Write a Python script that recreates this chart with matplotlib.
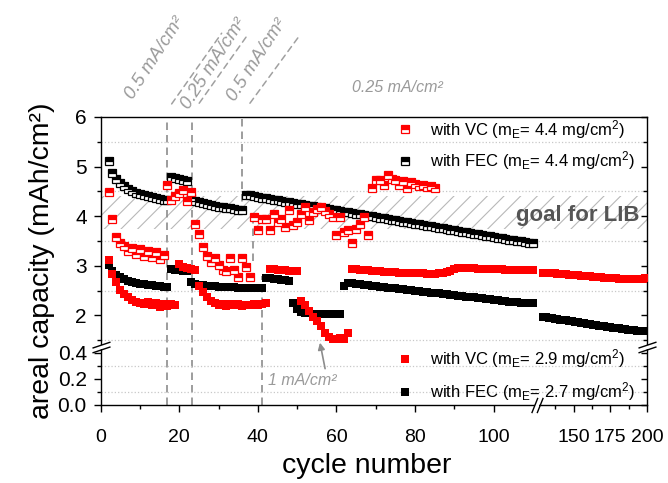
import numpy as np
import matplotlib
matplotlib.use("Agg")
import matplotlib.pyplot as plt
from matplotlib.lines import Line2D
from matplotlib.path import Path
from matplotlib.text import OffsetFrom
from matplotlib.ticker import FixedLocator, FixedFormatter

plt.rcParams['font.family'] = ['Liberation Sans', 'DejaVu Sans']
plt.rcParams['mathtext.fontset'] = 'custom'
plt.rcParams['mathtext.rm'] = 'Liberation Sans'
plt.rcParams['mathtext.it'] = 'Liberation Sans:italic'
plt.rcParams['hatch.color'] = '#b8b8b8'
plt.rcParams['hatch.linewidth'] = 0.8

# ---- data ----
cyc_left = list(range(2, 111))
cyc_vc44 = list(range(2, 86))
cyc_right = list(range(129, 200, 2))

fec44 = [5.11, 4.88, 4.75, 4.66, 4.60, 4.55, 4.50, 4.47, 4.44, 4.42, 4.40, 4.38, 4.36, 4.35, 4.33, 4.32,
         4.79, 4.77, 4.75, 4.73, 4.71,
         4.36, 4.31, 4.28, 4.26, 4.24, 4.22, 4.21, 4.19, 4.18, 4.17, 4.16, 4.14, 4.13, 4.12,
         4.43, 4.42, 4.40, 4.39, 4.37, 4.36, 4.35, 4.33, 4.32, 4.31,
         4.29, 4.28, 4.27, 4.25, 4.24, 4.22, 4.21, 4.20, 4.18, 4.17,
         4.16, 4.14, 4.13, 4.12, 4.10, 4.09, 4.08, 4.06, 4.05, 4.04,
         4.02, 4.01, 4.00, 3.98, 3.97, 3.96, 3.94, 3.93, 3.92, 3.90,
         3.89, 3.88, 3.86, 3.85, 3.84, 3.82, 3.81, 3.80, 3.78, 3.77,
         3.76, 3.74, 3.73, 3.72, 3.70, 3.69, 3.68, 3.66, 3.65, 3.64,
         3.62, 3.61, 3.60, 3.58, 3.57, 3.56, 3.54, 3.53, 3.52, 3.50,
         3.49, 3.48, 3.46, 3.45]

vc44 = [4.49, 3.94, 3.58, 3.45, 3.40, 3.30, 3.36, 3.24, 3.33, 3.20, 3.30, 3.17, 3.28, 3.14, 3.22, 4.62,
        4.33, 4.40, 4.46, 4.52, 4.30, 4.49,
        3.84, 3.64, 3.38, 3.20, 3.08, 3.16, 3.01, 2.92, 2.90, 3.15, 2.91, 2.77, 3.15, 2.98, 2.77,
        3.98, 3.72, 3.95, 3.95, 3.72, 4.05, 3.88, 3.95, 3.78, 4.12, 3.82, 3.88, 4.05, 4.19, 3.92,
        4.08, 4.15, 4.18, 4.10, 4.05, 3.98, 3.62, 3.98, 3.68, 3.72, 3.45, 3.75, 3.85, 3.98, 3.62,
        4.56, 4.73, 4.72, 4.63, 4.83, 4.75, 4.72, 4.62, 4.70, 4.56, 4.69, 4.65, 4.60, 4.62, 4.58,
        4.60, 4.56]

vc29 = [3.11, 2.84, 2.67, 2.52, 2.44, 2.37, 2.32, 2.28, 2.26, 2.22, 2.28, 2.20, 2.25, 2.17, 2.22, 2.19, 2.22, 2.20,
        3.04, 2.97, 2.95, 2.93, 2.92,
        2.60, 2.48, 2.38, 2.30, 2.24, 2.20, 2.22, 2.19, 2.23, 2.20, 2.22, 2.19, 2.21, 2.20, 2.22, 2.21, 2.23, 2.24,
        2.94, 2.93, 2.92, 2.92, 2.91, 2.90, 2.90, 2.89,
        2.30, 2.20, 2.08, 1.97, 1.88, 1.78, 1.65, 1.57, 1.53, 1.52, 1.54, 1.53, 1.65,
        2.94, 2.93, 2.92, 2.92, 2.91, 2.90, 2.90, 2.89, 2.88, 2.88,
        2.87, 2.87, 2.86, 2.86, 2.86, 2.85, 2.85, 2.85, 2.85, 2.84,
        2.84, 2.84, 2.85, 2.85, 2.87, 2.90, 2.93, 2.95, 2.96, 2.95,
        2.95, 2.95, 2.94, 2.94, 2.94, 2.93, 2.93, 2.93, 2.93, 2.92,
        2.92, 2.92, 2.92, 2.92, 2.92, 2.92, 2.92]
vc29_right = [2.86, 2.86, 2.85, 2.85, 2.85, 2.84, 2.84, 2.83, 2.83, 2.82, 2.82, 2.81,
              2.81, 2.80, 2.80, 2.79, 2.79, 2.78, 2.78, 2.77, 2.77, 2.76, 2.76, 2.76,
              2.75, 2.75, 2.74, 2.74, 2.74, 2.73, 2.73, 2.74, 2.74, 2.74, 2.74, 2.75]

fec27 = [3.01, 2.90, 2.82, 2.77, 2.73, 2.70, 2.68, 2.66, 2.64, 2.63, 2.62, 2.61, 2.60, 2.59, 2.58, 2.58,
         2.94, 2.92, 2.91, 2.90, 2.89,
         2.68, 2.64, 2.62, 2.61, 2.60, 2.59, 2.59, 2.58, 2.58, 2.57, 2.57, 2.57, 2.56, 2.56, 2.56,
         2.55, 2.55, 2.55, 2.55,
         2.76, 2.75, 2.74, 2.73, 2.72, 2.71, 2.70,
         2.26, 2.12, 2.07, 2.05, 2.04, 2.03, 2.03, 2.02, 2.02, 2.02, 2.02, 2.02, 2.02,
         2.60, 2.66, 2.65, 2.64, 2.63, 2.62, 2.61, 2.60, 2.59, 2.58,
         2.57, 2.56, 2.56, 2.55, 2.54, 2.53, 2.52, 2.51, 2.50, 2.49,
         2.48, 2.47, 2.46, 2.46, 2.45, 2.44, 2.43, 2.42, 2.41, 2.40,
         2.39, 2.38, 2.37, 2.37, 2.36, 2.35, 2.34, 2.33, 2.32, 2.31,
         2.30, 2.29, 2.28, 2.28, 2.27, 2.26, 2.25, 2.24, 2.24]
fec27_right = [1.97, 1.96, 1.95, 1.94, 1.93, 1.92, 1.91, 1.90, 1.90, 1.89, 1.88, 1.87,
               1.86, 1.85, 1.84, 1.83, 1.82, 1.81, 1.80, 1.79, 1.79, 1.78, 1.77, 1.76,
               1.75, 1.74, 1.74, 1.73, 1.72, 1.71, 1.71, 1.70, 1.69, 1.69, 1.68, 1.68]

rate_cycles = [17, 23.3, 36]
rate_labels = ['0.5 mA/cm²', '0.25 mA/cm²', '0.5 mA/cm²']
goal_band = (3.75, 4.4)

# ---- broken axes via piecewise-linear scales ----
xs_in = [-1000, 0, 111, 125, 200, 1000]
xs_out = [-1000, 0, 111, 111.001, 111 + 75 * 0.3733, 111 + 875 * 0.3733]
yr = 130 / 49.6
ylo_top, yhi_bot = 0.446, 1.363
ys_in = [-100, 0, ylo_top, yhi_bot, 6, 100]
ys_out = [-100 * yr, 0, ylo_top * yr, ylo_top * yr + 1e-4,
          ylo_top * yr + 1e-4 + (6 - yhi_bot), ylo_top * yr + 1e-4 + (100 - yhi_bot)]


def xfwd(v):
    return np.interp(v, xs_in, xs_out)


def xinv(v):
    return np.interp(v, xs_out, xs_in)


def yfwd(v):
    return np.interp(v, ys_in, ys_out)


def yinv(v):
    return np.interp(v, ys_out, ys_in)


fig = plt.figure(figsize=(6.68, 4.83), dpi=100)
ax = fig.add_axes([0.1507, 0.1615, 0.8178, 0.5963])
ax.set_xscale('function', functions=(xfwd, xinv))
ax.set_yscale('function', functions=(yfwd, yinv))
ax.set_xlim(0, 200)
ax.set_ylim(0, 6)

gray = '#8c8c8c'
# goal band
ax.axhspan(*goal_band, facecolor='none', edgecolor='#b8b8b8', hatch='//', lw=0, zorder=0)
ax.text(0.987, 4.02, 'goal for LIB', transform=ax.get_yaxis_transform(), ha='right', va='center',
        fontsize=16, fontweight='bold', color='#555555', zorder=1)

# rate-change dashed lines
dash = dict(color=gray, lw=1.2, dashes=(4.5, 3), zorder=1)
ax.plot([17, 17], [0, 6], **dash)
ax.plot([23.3, 23.3], [0, 6], **dash)
ax.plot([36, 36], [4.05, 6], **dash)
ax.plot([38.8, 38.8], [3.1, 4.05], **dash)
ax.plot([41, 41], [0, 2.8], **dash)

# minor grid
ax.grid(which='minor', axis='y', linestyle=':', color='#c8c8c8', lw=0.9, zorder=0)

ms = 6.3
half = dict(ls='none', marker='s', ms=ms, mew=0.9, fillstyle='top', markerfacecoloralt='white')
full = dict(ls='none', marker='s', ms=ms, mew=0)
ax.plot(cyc_left, fec44, color='black', zorder=3, **half)
ax.plot(cyc_left, fec27, color='black', zorder=3, **full)
ax.plot(cyc_right, fec27_right, color='black', zorder=3, **full)
ax.plot(cyc_vc44, vc44, color='red', zorder=4, **half)
ax.plot(cyc_left, vc29, color='red', zorder=4, **full)
ax.plot(cyc_right, vc29_right, color='red', zorder=4, **full)

# ticks
ymaj = [0, 0.2, 0.4, 2, 3, 4, 5, 6]
ymaj_lbl = ['0.0', '0.2', '0.4', '2', '3', '4', '5', '6']
ymin = [0.1, 0.3, 1.5, 2.5, 3.5, 4.5, 5.5]
xmaj = [0, 20, 40, 60, 80, 100, 150, 175, 200]
xmin = [10, 30, 50, 70, 90, 137.5, 162.5, 187.5]
ax.yaxis.set_major_locator(FixedLocator(ymaj))
ax.yaxis.set_major_formatter(FixedFormatter(ymaj_lbl))
ax.yaxis.set_minor_locator(FixedLocator(ymin))
ax.xaxis.set_major_locator(FixedLocator(xmaj))
ax.xaxis.set_major_formatter(FixedFormatter([str(v) for v in xmaj]))
ax.xaxis.set_minor_locator(FixedLocator(xmin))
ax.tick_params(which='both', direction='out', width=1, top=False, right=False)
ax.tick_params(which='major', length=5)
ax.tick_params(which='minor', length=3)
ax.tick_params(axis='y', pad=5, labelsize=15)
ax.tick_params(axis='x', pad=12, labelsize=14)
for s in ax.spines.values():
    s.set_linewidth(1.0)

axr = ax.twinx()
axr.set_yscale('function', functions=(yfwd, yinv))
axr.set_ylim(0, 6)
axr.yaxis.set_major_locator(FixedLocator(ymaj))
axr.yaxis.set_minor_locator(FixedLocator(ymin))
axr.tick_params(which='both', direction='in', width=1, labelright=False)
axr.tick_params(which='major', length=4)
axr.tick_params(which='minor', length=3)
for s in axr.spines.values():
    s.set_visible(False)

ax.set_xlabel('cycle number', fontsize=20.5)
ax.set_ylabel('areal capacity (mAh/cm²)', fontsize=20.5)
ax.xaxis.set_label_coords(0.487, -0.168)
ax.yaxis.set_label_coords(-0.083, 0.5)

# axis break marks
yb = (yfwd(ylo_top) - yfwd(0)) / (yfwd(6) - yfwd(0))
xb = xfwd(111) / xfwd(200)
ybrk = Path([(-1, -0.6), (1, 0.07), (-1, -0.07), (1, 0.6)],
            [Path.MOVETO, Path.LINETO, Path.MOVETO, Path.LINETO])
xbrk = Path([(-0.75, -1), (0.05, 1), (-0.05, -1), (0.75, 1)],
            [Path.MOVETO, Path.LINETO, Path.MOVETO, Path.LINETO])
for xa in (0, 1):
    ax.plot([xa], [yb], transform=ax.transAxes, marker='|', ms=3.5, mew=3, color='white',
            clip_on=False, zorder=6)
    ax.plot([xa], [yb], transform=ax.transAxes, marker=ybrk, ms=13, mew=1.0, color='black',
            clip_on=False, zorder=7)
ax.plot([xb], [0], transform=ax.transAxes, marker='_', ms=3.5, mew=3, color='white',
        clip_on=False, zorder=6)
ax.plot([xb], [0], transform=ax.transAxes, marker=xbrk, ms=11, mew=1.0, color='black',
        clip_on=False, zorder=7)

# rate labels above the plot
lbl_off = [(-9, 42.5), (15.8, 38.2), (10.7, 41)]
line_off = [((3, 9.4), (39, 60.3)), ((5, 9.9), (39.8, 59)), ((5.6, 9.9), (41.6, 59))]
for c, lab, toff, (p0, p1) in zip(rate_cycles, rate_labels, lbl_off, line_off):
    fx = xfwd(c) / xfwd(200)
    ref = OffsetFrom(ax, (fx, 1.0), unit='points')
    ax.annotate('', xy=p1, xycoords=ref, xytext=p0, textcoords=ref,
                arrowprops=dict(arrowstyle='-', color='#a0a0a0', lw=1.1, ls=(0, (4, 3)),
                                shrinkA=0, shrinkB=0), annotation_clip=False)
    ax.annotate(lab, xy=(fx, 1.0), xycoords='axes fraction', xytext=toff, textcoords='offset points',
                rotation=57, ha='center', va='center', fontsize=13.3, style='italic', color='#9a9a9a',
                annotation_clip=False)
ax.annotate('0.25 mA/cm²', xy=(75.4, 6), xycoords='data', xytext=(0, 21), textcoords='offset points',
            ha='center', va='center', fontsize=11.5, style='italic', color='#9a9a9a', annotation_clip=False)

ax.annotate('1 mA/cm²', xy=(55.8, 1.45), xytext=(51.2, 0.19), ha='center', va='center',
            fontsize=11.5, style='italic', color='#9a9a9a',
            arrowprops=dict(arrowstyle='-|>', color='#8c8c8c', lw=1.2, relpos=(0.85, 1.0),
                            shrinkA=1, shrinkB=0, mutation_scale=10))

# legends
lab1 = ['with VC (m$_\\mathregular{E}$= 4.4 mg/cm$^\\mathregular{2}$)',
        'with FEC (m$_\\mathregular{E}$= 4.4 mg/cm$^\\mathregular{2}$)']
lab2 = ['with VC (m$_\\mathregular{E}$= 2.9 mg/cm$^\\mathregular{2}$)',
        'with FEC (m$_\\mathregular{E}$= 2.7 mg/cm$^\\mathregular{2}$)']
h1 = [Line2D([], [], color='red', **half), Line2D([], [], color='black', **half)]
h2 = [Line2D([], [], color='red', **full), Line2D([], [], color='black', **full)]
leg_kw = dict(frameon=False, fontsize=12, handlelength=1.0, handletextpad=1.0,
              borderpad=0, borderaxespad=0, loc='center left')
leg1 = ax.legend(h1, lab1, bbox_to_anchor=(0.542, 0.903), labelspacing=0.5, **leg_kw)
ax.add_artist(leg1)
ax.legend(h2, lab2, bbox_to_anchor=(0.542, 0.104), labelspacing=0.6, **leg_kw)

fig.savefig('out.png', dpi=100)
